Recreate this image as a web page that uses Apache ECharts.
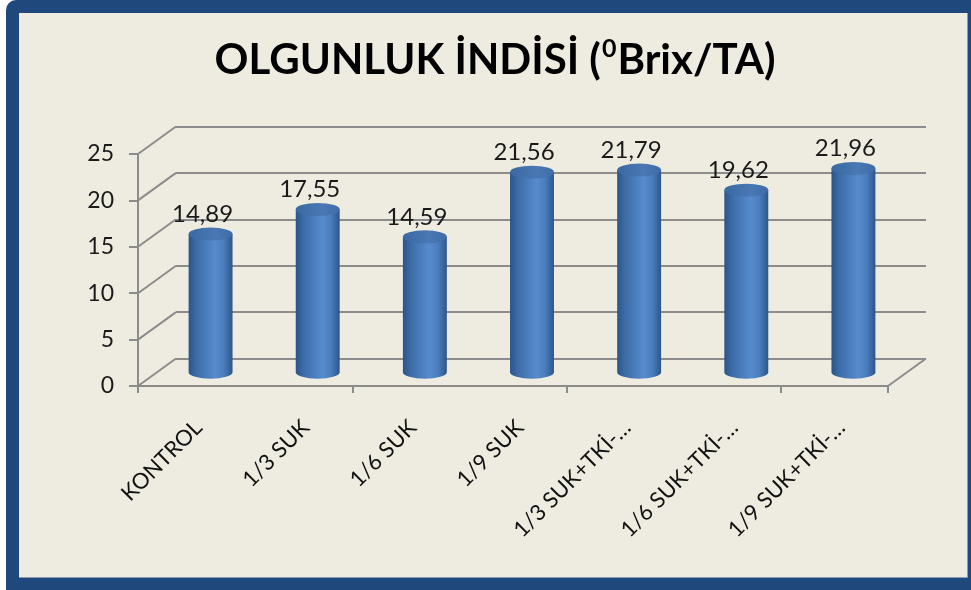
<!DOCTYPE html>
<html>
<head>
<meta charset="utf-8">
<script src="https://cdn.jsdelivr.net/npm/echarts@6/dist/echarts.min.js"></script>
<style>
  html, body { margin: 0; padding: 0; background: #fff; }
  .page { position: relative; width: 971px; height: 590px; overflow: hidden; }
  .frame { position: absolute; left: 6px; top: 0; width: 980px; height: 600px; background: #1f497d; border-radius: 10px; }
  .inner { position: absolute; left: 19px; top: 13px; width: 948px; height: 564px; background: #eeece1;
           border-right: 1px solid #8a9bb3; border-bottom: 1px solid #8a9bb3; }
  #chart { position: absolute; left: 0; top: 0; width: 971px; height: 590px; }
</style>
</head>
<body>
<div class="page">
  <div class="frame"></div>
  <div class="inner"></div>
  <div id="chart"></div>
</div>
<script>
// data
const categories = ["KONTROL", "1/3 SUK", "1/6 SUK", "1/9 SUK", "1/3 SUK+TKİ-…", "1/6 SUK+TKİ-…", "1/9 SUK+TKİ-…"];
const values = [14.89, 17.55, 14.59, 21.56, 21.79, 19.62, 21.96];
const yTicks = [0, 5, 10, 15, 20, 25];

// pseudo 3d depth offset
const DX = 38;
const DY = -27.5;
const FONT = "Lato, 'Open Sans', sans-serif";
const GRID_COLOR = "#8c8c8c";

const chart = echarts.init(document.getElementById("chart"));

const option = {
  animation: false,
  graphic: [{
    type: "text",
    x: 495,
    y: 60,
    style: {
      text: "{a|OLGUNLUK İNDİSİ (}{s|0}{a|Brix/TA)}",
      align: "center",
      verticalAlign: "middle",
      rich: {
        a: { fontFamily: FONT, fontWeight: "bold", fontSize: 42, color: "#000" },
        s: { fontFamily: FONT, fontWeight: "bold", fontSize: 25, color: "#000", padding: [0, 1, 22, 1] }
      }
    }
  }],
  grid: [
    // front (axes)
    { left: 138, right: 83, top: 154, bottom: 204 },
    // back wall
    { left: 138 + DX, right: 83 - DX, top: 154 + DY, bottom: 204 - DY },
    // middle depth, bars
    { left: 138 + DX / 2, right: 83 - DX / 2, top: 154 + DY / 2, bottom: 204 - DY / 2 },
    // category labels
    { left: 145, right: 76, top: 154, bottom: 204 }
  ],
  xAxis: [
    {
      gridIndex: 0, type: "category", data: categories,
      axisLine: { lineStyle: { color: GRID_COLOR, width: 2 } },
      axisTick: { show: true, length: 7, lineStyle: { color: GRID_COLOR, width: 2 } },
      axisLabel: { show: false }
    },
    { gridIndex: 1, type: "category", data: categories, show: false },
    { gridIndex: 2, type: "category", data: categories, show: false },
    {
      gridIndex: 3, type: "category", data: categories,
      axisLine: { show: false }, axisTick: { show: false },
      axisLabel: {
        interval: 0, rotate: 45, margin: 38,
        fontFamily: FONT, fontSize: 22, color: "#111"
      }
    }
  ],
  yAxis: [
    {
      gridIndex: 0, type: "value", min: 0, max: 25, interval: 5,
      axisLine: { show: true, lineStyle: { color: GRID_COLOR, width: 2 } },
      axisTick: { show: true, length: 9, lineStyle: { color: GRID_COLOR, width: 2 } },
      axisLabel: { margin: 24, fontFamily: FONT, fontSize: 23, color: "#1a1a1a" },
      splitLine: { show: false }
    },
    {
      gridIndex: 1, type: "value", min: 0, max: 25, interval: 5,
      axisLine: { show: false }, axisTick: { show: false }, axisLabel: { show: false },
      splitLine: { show: true, lineStyle: { color: GRID_COLOR, width: 2 } }
    },
    { gridIndex: 2, type: "value", min: 0, max: 25, interval: 5, show: false, splitLine: { show: false } },
    { gridIndex: 3, type: "value", min: 0, max: 25, show: false, splitLine: { show: false } }
  ],
  series: [
    // diagonals joining front axis ticks to back wall
    {
      type: "custom",
      xAxisIndex: 0, yAxisIndex: 0,
      clip: false, silent: true, z: 1,
      data: yTicks.map((v) => [0, v]),
      renderItem: (params, api) => {
        const v = api.value(1);
        const p = api.coord([0, v]);
        const bw = api.size([1, 0])[0];
        const x0 = p[0] - bw / 2;
        const lineStyle = { stroke: GRID_COLOR, lineWidth: 2 };
        const children = [{
          type: "line",
          shape: { x1: x0, y1: p[1], x2: x0 + DX, y2: p[1] + DY },
          style: lineStyle
        }];
        if (v === 0) {
          const q = api.coord([categories.length - 1, 0]);
          const x1 = q[0] + bw / 2;
          children.push({
            type: "line",
            shape: { x1: x1, y1: q[1], x2: x1 + DX, y2: q[1] + DY },
            style: lineStyle
          });
        }
        return { type: "group", children: children };
      }
    },
    // cylinders
    {
      type: "custom",
      xAxisIndex: 2, yAxisIndex: 2,
      clip: false, z: 3,
      data: values.map((v, i) => [i, v]),
      renderItem: (params, api) => {
        const i = api.value(0);
        const v = api.value(1);
        const top = api.coord([i, v]);
        const base = api.coord([i, 0]);
        const w = api.size([1, 0])[0] * 0.41;
        const rx = w / 2;
        const ry = 6.5;
        const l = top[0] - rx;
        const r = top[0] + rx;
        const bodyPath = "M" + l + "," + top[1] + " L" + l + "," + base[1] +
          " A" + rx + "," + ry + " 0 0 0 " + r + "," + base[1] +
          " L" + r + "," + top[1] + " Z";
        const capPath = "M" + l + "," + top[1] +
          " A" + rx + "," + ry + " 0 1 0 " + r + "," + top[1] +
          " A" + rx + "," + ry + " 0 1 0 " + l + "," + top[1] + " Z";
        return {
          type: "group",
          children: [
            {
              type: "path",
              shape: { pathData: bodyPath },
              style: {
                fill: new echarts.graphic.LinearGradient(0, 0, 1, 0, [
                  { offset: 0, color: "#2b5588" },
                  { offset: 0.18, color: "#3d6ca8" },
                  { offset: 0.6, color: "#568bcd" },
                  { offset: 0.8, color: "#4a7dbd" },
                  { offset: 1, color: "#2c5689" }
                ])
              }
            },
            {
              type: "path",
              shape: { pathData: capPath },
              style: {
                fill: new echarts.graphic.LinearGradient(0, 0, 1, 0, [
                  { offset: 0, color: "#3a68a1" },
                  { offset: 0.6, color: "#4a78b4" },
                  { offset: 1, color: "#3f6ca6" }
                ])
              }
            },
            {
              type: "text",
              x: top[0] - 8,
              y: top[1] - 20,
              style: {
                text: v.toFixed(2).replace(".", ","),
                align: "center",
                verticalAlign: "middle",
                fontFamily: FONT,
                fontSize: 24,
                fill: "#1a1a1a"
              }
            }
          ]
        };
      }
    }
  ]
};

chart.setOption(option);
</script>
</body>
</html>
